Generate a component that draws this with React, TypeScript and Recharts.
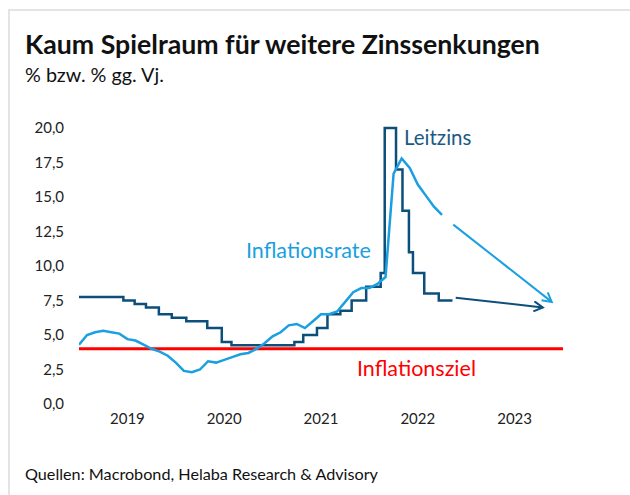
import { LineChart, Line, XAxis, YAxis, ReferenceLine } from 'recharts';

// Monate seit Jan 2019 (0 = Jahresanfang 2019, 60 = Ende 2023)
const yearLabels = ['2019', '2020', '2021', '2022', '2023'];
const yearTicks = [6, 18, 30, 42, 54];
const valueTicks = [0, 2.5, 5, 7.5, 10, 12.5, 15, 17.5, 20];

// Leitzins: Zeitpunkt der Änderung (Monat) und neuer Satz
const leitzinsMonat = [0, 5.5, 6.9, 8.3, 9.9, 11.5, 13.3, 15.9, 17.7, 18.9, 26.7, 27.8, 29.5, 30.8, 32.4, 33.8, 35.6, 37.4, 37.9, 39.3, 40.1, 40.9, 41.4, 42.8, 44.6, 46.3];
const leitzinsWert = [7.75, 7.5, 7.25, 7.0, 6.5, 6.25, 6.0, 5.5, 4.5, 4.25, 4.5, 5.0, 5.5, 6.5, 6.75, 7.5, 8.5, 9.5, 20, 17, 14, 11, 9.5, 8.0, 7.5, 7.5];

// Inflationsrate, Monatsende ab Dez 2018
const inflationWert = [4.3, 5.0, 5.2, 5.3, 5.2, 5.1, 4.7, 4.6, 4.3, 4.0, 3.8, 3.5, 3.0, 2.4, 2.3, 2.5, 3.1, 3.0, 3.2, 3.4, 3.6, 3.7, 4.0, 4.4, 4.9, 5.2, 5.7, 5.8, 5.5, 6.0, 6.5, 6.5, 6.7, 7.4, 8.1, 8.4, 8.4, 8.7, 9.2, 16.7, 17.8, 17.1, 15.9, 15.1, 14.3, 13.7];

// Prognosepfeile
const prognoseInflationMonat = [46.4, 58.6];
const prognoseInflationWert = [13.0, 7.4];
const prognoseLeitzinsMonat = [46.7, 57.5];
const prognoseLeitzinsWert = [7.7, 7.0];

const inflationsziel = 4;

const DARK = '#0c4f7b';
const LIGHT = '#1a9fe1';
const RED = '#ff0000';
const FONT = 'Lato, "Noto Sans", sans-serif';

const leitzinsData = leitzinsMonat.map((m, i) => ({ m, v: leitzinsWert[i] }));
const inflationData = inflationWert.map((v, i) => ({ m: i, v }));
const progInflData = prognoseInflationMonat.map((m, i) => ({ m, v: prognoseInflationWert[i] }));
const progLeitData = prognoseLeitzinsMonat.map((m, i) => ({ m, v: prognoseLeitzinsWert[i] }));

const fmt = (v: number) => v.toFixed(1).replace('.', ',');

const RightTick = (props: any) => {
  const { x, y, payload } = props;
  return (
    <text x={x + 45} y={y} dy="0.355em" textAnchor="end" fill="#222" fontSize={15} fontFamily={FONT}>
      {fmt(payload.value)}
    </text>
  );
};

export default function App() {
  return (
    <div style={{ position: 'absolute', left: 0, top: 0, width: 630, height: 495, background: '#fff', overflow: 'hidden', fontFamily: FONT }}>
      <div style={{ position: 'absolute', left: 8, top: 9, width: 640, height: 500, borderLeft: '2px solid #e4e4e4', borderTop: '2px solid #e4e4e4' }} />
      <div style={{ position: 'absolute', left: 25, top: 31.4, fontSize: 26.7, lineHeight: 1, fontWeight: 700, color: '#111', whiteSpace: 'nowrap' }}>
        Kaum Spielraum für weitere Zinssenkungen
      </div>
      <div style={{ position: 'absolute', left: 25, top: 65.4, fontSize: 19.8, lineHeight: 1, color: '#111', whiteSpace: 'nowrap' }}>
        % bzw. % gg. Vj.
      </div>

      <div style={{ position: 'absolute', left: 0, top: 0 }}>
        <LineChart width={630} height={495} margin={{ top: 128, right: 67, bottom: 61, left: 0 }}>
          <defs>
            <marker id="arrLight" viewBox="0 0 12 12" refX="10" refY="6" markerWidth="12" markerHeight="12" markerUnits="userSpaceOnUse" orient="auto">
              <path d="M1,1 L10,6 L1,11" fill="none" stroke={LIGHT} strokeWidth={2} />
            </marker>
            <marker id="arrDark" viewBox="0 0 12 12" refX="10" refY="6" markerWidth="12" markerHeight="12" markerUnits="userSpaceOnUse" orient="auto">
              <path d="M1,1 L10,6 L1,11" fill="none" stroke={DARK} strokeWidth={2} />
            </marker>
          </defs>
          <XAxis
            xAxisId={0}
            type="number"
            dataKey="m"
            domain={[0, 60]}
            ticks={yearTicks}
            tickFormatter={(v: number) => yearLabels[yearTicks.indexOf(v)]}
            axisLine={false}
            tickLine={false}
            tickSize={0}
            tickMargin={9}
            height={30}
            tick={{ fill: '#222', fontSize: 15, fontFamily: FONT }}
            allowDataOverflow
          />
          <YAxis
            yAxisId="l"
            orientation="left"
            domain={[0, 20]}
            ticks={valueTicks}
            tickFormatter={fmt}
            axisLine={false}
            tickLine={false}
            tickSize={0}
            tickMargin={15}
            width={79}
            tick={{ fill: '#222', fontSize: 15, fontFamily: FONT }}
            interval={0}
          />
          <YAxis
            yAxisId="r"
            orientation="right"
            domain={[0, 20]}
            ticks={valueTicks}
            axisLine={false}
            tickLine={false}
            tickSize={0}
            tickMargin={0}
            width={0}
            tick={<RightTick />}
            interval={0}
          />
          <ReferenceLine yAxisId="l" y={inflationsziel} stroke={RED} strokeWidth={3} />
          <Line yAxisId="l" data={leitzinsData} dataKey="v" type="stepAfter" stroke={DARK} strokeWidth={2.5} dot={false} isAnimationActive={false} />
          <Line yAxisId="l" data={inflationData} dataKey="v" type="linear" stroke={LIGHT} strokeWidth={2.5} dot={false} isAnimationActive={false} />
          <Line yAxisId="l" data={progInflData} dataKey="v" type="linear" stroke={LIGHT} strokeWidth={2} dot={false} isAnimationActive={false} markerEnd="url(#arrLight)" />
          <Line yAxisId="l" data={progLeitData} dataKey="v" type="linear" stroke={DARK} strokeWidth={2} dot={false} isAnimationActive={false} markerEnd="url(#arrDark)" />
        </LineChart>
      </div>

      <div style={{ position: 'absolute', left: 404, top: 127, fontSize: 20.5, lineHeight: 1, color: '#1b5a84', whiteSpace: 'nowrap' }}>Leitzins</div>
      <div style={{ position: 'absolute', left: 246, top: 240, fontSize: 21.5, lineHeight: 1, color: LIGHT, whiteSpace: 'nowrap' }}>Inflationsrate</div>
      <div style={{ position: 'absolute', left: 357, top: 358.4, fontSize: 21.5, lineHeight: 1, color: RED, whiteSpace: 'nowrap' }}>Inflationsziel</div>

      <div style={{ position: 'absolute', left: 25, top: 466, fontSize: 16.2, lineHeight: 1, color: '#111', whiteSpace: 'nowrap' }}>
        Quellen: Macrobond, Helaba Research &amp; Advisory
      </div>
    </div>
  );
}
